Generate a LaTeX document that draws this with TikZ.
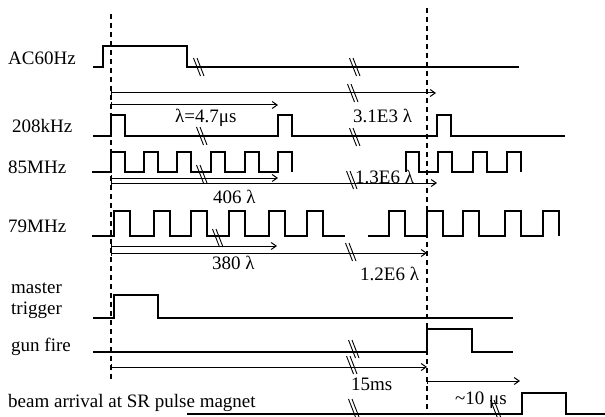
\documentclass[tikz,border=0pt]{standalone}
\usepackage{fontspec}
\setmainfont{Liberation Serif}
\usetikzlibrary{arrows.meta}
\tikzset{
  every node/.style = {font=\fontsize{19}{21}\selectfont, inner sep=0pt, anchor=base west},
  senal/.style      = {draw=black, line width=1.1pt, line join=miter},
  guia/.style       = {draw=black, line width=1.2pt, dash pattern=on 5pt off 4pt},
  flecha/.style     = {{Bar[width=6pt,line width=0.9pt]}-{Straight Barb[length=5pt,width=7pt,line width=1pt]},
                       draw=black, line width=1pt},
  cortelin/.style   = {draw=black, line width=0.9pt},
  corte/.pic        = {\draw[cortelin] (-4.5,-9) -- (2.5,9) (-1,-9) -- (6,9);},
}

\begin{document}
\begin{tikzpicture}[x=1pt,y=-1pt]
\useasboundingbox (0,0) rectangle (605,417);

% =============================================================================
% Etiquetas de cada senal
% =============================================================================
\node (lac)   at (8,65)   {AC60Hz};
\node (l208)  at (12,132) {208kHz};
\node (l85)   at (8,173)  {85MHz};
\node (l79)   at (8,232)  {79MHz};
\node (lmt1)  at (11,293) {master};
\node (lmt2)  at (11,314) {trigger};
\node (lgun)  at (11,351) {gun fire};
\node (lbeam) at (8,407)  {beam arrival at SR pulse magnet};

% =============================================================================
% Guias verticales de disparo
% =============================================================================
\coordinate (g1a) at (111,14);  \coordinate (g1b) at (111,382);
\coordinate (g2a) at (427,8);   \coordinate (g2b) at (427,409);
\draw[guia] (g1a) -- (g1b);
\draw[guia] (g2a) -- (g2b);

% =============================================================================
% Senales
% =============================================================================
\draw[senal] (93,67) -- (103,67) -- (103,46) -- (187,46) -- (187,67) -- (519,67);

\draw[senal] (93,136) \foreach \x in {111,278,437} {-- (\x,136) -- (\x,115) -- ++(14,0) -- ++(0,21)} -- (565,136);

\draw[senal] (92,172) \foreach \x in {111,144,177,211,245,278} {-- (\x,172) -- (\x,152) -- ++(14,0) -- ++(0,20)};
\draw[senal] (406,172) -- (406,152) -- (419,152) -- (419,172)
  \foreach \x in {438,473,507} {-- (\x,172) -- (\x,152) -- ++(14,0) -- ++(0,20)};

\draw[senal] (92,236) \foreach \x in {114,154,191,229,269,307} {-- (\x,236) -- (\x,211) -- ++(16,0) -- ++(0,25)} -- (345,236);
\draw[senal] (368,236) \foreach \x in {389,427,463,505,543} {-- (\x,236) -- (\x,211) -- ++(16,0) -- ++(0,25)};

\draw[senal] (93,318) -- (114,318) -- (114,295) -- (158,295) -- (158,318) -- (513,318);
\draw[senal] (93,352) -- (427,352) -- (427,329) -- (472,329) -- (472,352) -- (513,352);
\draw[senal] (187,414) -- (522,414) -- (522,393) -- (566,393) -- (566,414) -- (605,414);

% =============================================================================
% Intervalos
% =============================================================================
\coordinate (a1s) at (111,93);  \coordinate (a1e) at (436,93);
\coordinate (a2s) at (111,105); \coordinate (a2e) at (278,105);
\coordinate (a3s) at (111,178); \coordinate (a3e) at (278,178);
\coordinate (a4s) at (111,183); \coordinate (a4e) at (437,183);
\coordinate (a5s) at (111,246); \coordinate (a5e) at (277,246);
\coordinate (a6s) at (111,253); \coordinate (a6e) at (427,253);
\coordinate (a7s) at (111,367); \coordinate (a7e) at (427,367);
\coordinate (a8s) at (427,381); \coordinate (a8e) at (520,381);
\foreach \a in {a1,a2,a3,a4,a5,a6,a7,a8} \draw[flecha] (\a s) -- (\a e);

\node (tlam)  at (175,123) {λ=4.7μs};
\node (t31)   at (353,123) {3.1E3 λ};
\node (t406)  at (213,203) {406 λ};
\node (t13)   at (355,183) {1.3E6 λ};
\node (t380)  at (212,269) {380 λ};
\node (t12)   at (360,280) {1.2E6 λ};
\node (t15)   at (351,390) {15ms};
\node (t10)   at (455,404) {\textasciitilde10 μs};

% =============================================================================
% Cortes de escala
% =============================================================================
\foreach \p in {(198,67),(354,67),(352,93),(201,136),(354,137),(201,174),(351,180),
                (217,238),(350,252),(353,349),(351,365),(353,408),(495,409)}
  \pic at \p {corte};

\end{tikzpicture}
\end{document}
